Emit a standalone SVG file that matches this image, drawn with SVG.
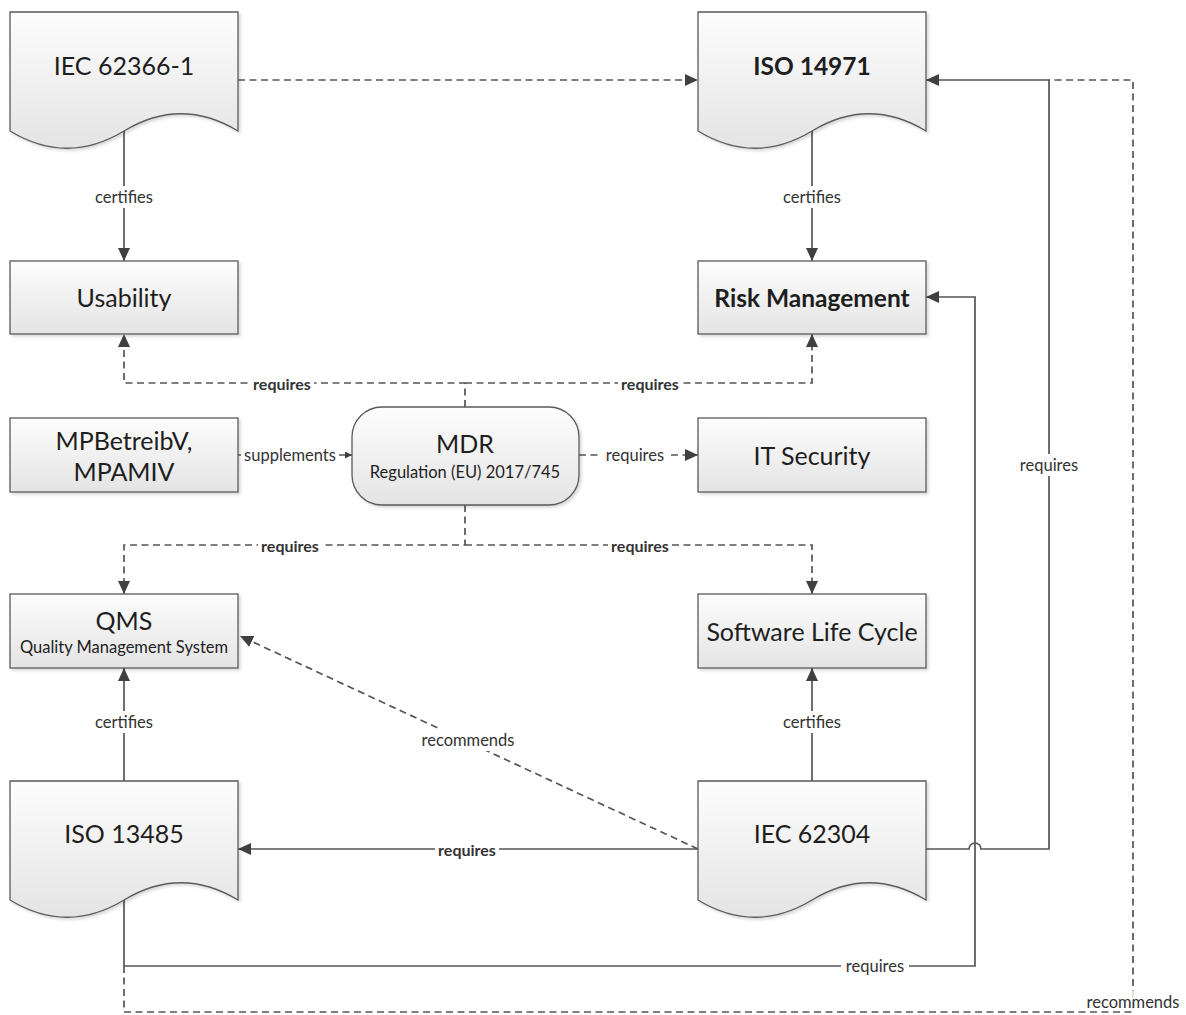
<svg xmlns="http://www.w3.org/2000/svg" width="1186" height="1015" viewBox="0 0 1186 1015">
<style>
.node{fill:url(#g);stroke:#5a5a5a;stroke-width:1.3;filter:url(#sh)}
.t{font-family:Lato,"Open Sans","Liberation Sans",sans-serif;font-size:25px;fill:#1e1e1e;text-anchor:middle;dominant-baseline:central}
.tb{font-weight:bold;font-size:24.5px}
.ts{font-size:16.5px}
.c{fill:none;stroke:#555;stroke-width:1.7}
.d{stroke-dasharray:7 4.5}
.a{marker-end:url(#ar)}
.lb{fill:#fff}
.l{font-family:Lato,"Open Sans","Liberation Sans",sans-serif;font-size:16.5px;fill:#333;text-anchor:middle;dominant-baseline:central}
.lbd{font-weight:bold;font-size:16px}
</style>
<defs>
<linearGradient id="g" x1="0" y1="0" x2="0" y2="1">
<stop offset="0" stop-color="#fdfdfd"/>
<stop offset="1" stop-color="#e4e4e4"/>
</linearGradient>
<filter id="sh" x="-5%" y="-5%" width="115%" height="120%">
<feDropShadow dx="2" dy="2" stdDeviation="1.5" flood-color="#000" flood-opacity="0.15"/>
</filter>
<marker id="ar" markerUnits="userSpaceOnUse" markerWidth="14" markerHeight="12" refX="13" refY="6" orient="auto">
<path d="M0,0 L13,6 L0,12 Z" fill="#404040" stroke="none"/>
</marker>
<marker id="ars" markerUnits="userSpaceOnUse" markerWidth="8" markerHeight="8" refX="7" refY="3.5" orient="auto">
<path d="M0,0 L7,3.5 L0,7 Z" fill="#404040" stroke="none"/>
</marker>
</defs>
<rect width="1186" height="1015" fill="#fff"/>

<g id="connectors">
<path class="c d a" d="M238,80 H698"/>
<path class="c a" d="M124,131 V261"/>
<path class="c a" d="M812,131 V261"/>
<path class="c d a" d="M465,407 V383 H124 V334"/>
<path class="c d a" d="M465,383 H812 V334"/>
<path class="c" d="M238,455 H352" marker-end="url(#ars)"/>
<path class="c d a" d="M579,455 H698"/>
<path class="c d a" d="M465,505 V545 H124 V594"/>
<path class="c d a" d="M465,545 H812 V594"/>
<path class="c a" d="M124,781 V668"/>
<path class="c a" d="M812,781 V668"/>
<path class="c a" d="M698,849 H238"/>
<path class="c d a" d="M698,849 L240,636"/>
<path class="c d" d="M124,966 V1012 H1133 V80 H1049"/>
<path class="c a" d="M926,849 H969 A6,6 0 0 1 981,849 H1049 V80 H926"/>
<path class="c a" d="M124,900 V966 H975 V297 H926"/>

<g id="labels">
<rect class="lb" x="92" y="186" width="64" height="22"/><text class="l" x="124" y="197">certifies</text>
<rect class="lb" x="780" y="186" width="64" height="22"/><text class="l" x="812" y="197">certifies</text>
<rect class="lb" x="250" y="373" width="64" height="20"/><text class="l lbd" x="282" y="383">requires</text>
<rect class="lb" x="618" y="373" width="64" height="20"/><text class="l lbd" x="650" y="383">requires</text>
<rect class="lb" x="241" y="445" width="98" height="20"/><text class="l" x="290" y="455">supplements</text>
<rect class="lb" x="602" y="445" width="66" height="20"/><text class="l" x="635" y="455">requires</text>
<rect class="lb" x="258" y="535" width="64" height="20"/><text class="l lbd" x="290" y="545">requires</text>
<rect class="lb" x="608" y="535" width="64" height="20"/><text class="l lbd" x="640" y="545">requires</text>
<rect class="lb" x="92" y="711" width="64" height="22"/><text class="l" x="124" y="722">certifies</text>
<rect class="lb" x="780" y="711" width="64" height="22"/><text class="l" x="812" y="722">certifies</text>
<rect class="lb" x="416" y="729" width="104" height="22"/><text class="l" x="468" y="740">recommends</text>
<rect class="lb" x="435" y="839" width="64" height="20"/><text class="l lbd" x="467" y="849">requires</text>
<rect class="lb" x="1015" y="454" width="68" height="22"/><text class="l" x="1049" y="465">requires</text>
<rect class="lb" x="841" y="956" width="68" height="20"/><text class="l" x="875" y="966">requires</text>
<rect class="lb" x="1079" y="991" width="106" height="20" fill-opacity="0.8"/><text class="l" x="1133" y="1002">recommends</text>
</g>
</g>

<g id="iec62366">
<path class="node" d="M10,12 H238 V131 C200,108 162,108 124,131 C86,154 48,154 10,131 Z"/>
<text class="t" x="124" y="65">IEC 62366-1</text>
</g>
<g id="iso14971">
<path class="node" d="M698,12 H926 V131 C888,108 850,108 812,131 C774,154 736,154 698,131 Z"/>
<text class="t tb" x="812" y="65">ISO 14971</text>
</g>
<g id="usability">
<rect class="node" x="10" y="261" width="228" height="73"/>
<text class="t" x="124" y="297">Usability</text>
</g>
<g id="riskmanagement">
<rect class="node" x="698" y="261" width="228" height="73"/>
<text class="t tb" x="812" y="297">Risk Management</text>
</g>
<g id="mpbetreibv">
<rect class="node" x="10" y="418" width="228" height="74"/>
<text class="t" x="124" y="440">MPBetreibV,</text>
<text class="t" x="124" y="471">MPAMIV</text>
</g>
<g id="mdr">
<rect class="node" x="352" y="407" width="227" height="98" rx="30" ry="30"/>
<text class="t" x="465" y="443" font-size="24">MDR</text>
<text class="t ts" x="465" y="472">Regulation (EU) 2017/745</text>
</g>
<g id="itsecurity">
<rect class="node" x="698" y="418" width="228" height="74"/>
<text class="t" x="812" y="455">IT Security</text>
</g>
<g id="qms">
<rect class="node" x="10" y="594" width="228" height="74"/>
<text class="t" x="124" y="620">QMS</text>
<text class="t ts" x="124" y="647">Quality Management System</text>
</g>
<g id="softwarelifecycle">
<rect class="node" x="698" y="594" width="228" height="74"/>
<text class="t" x="812" y="631">Software Life Cycle</text>
</g>
<g id="iso13485">
<path class="node" d="M10,781 H238 V900 C200,877 162,877 124,900 C86,923 48,923 10,900 Z"/>
<text class="t" x="124" y="833">ISO 13485</text>
</g>
<g id="iec62304">
<path class="node" d="M698,781 H926 V900 C888,877 850,877 812,900 C774,923 736,923 698,900 Z"/>
<text class="t" x="812" y="833">IEC 62304</text>
</g>
</svg>
